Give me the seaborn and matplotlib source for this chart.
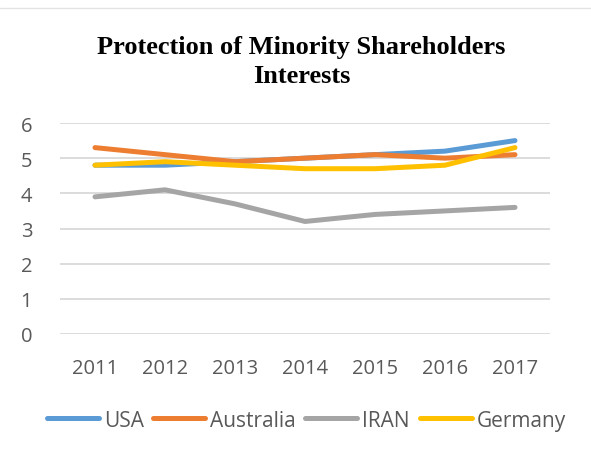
import matplotlib
matplotlib.use("Agg")
import matplotlib.pyplot as plt
import seaborn as sns
import pandas as pd
from matplotlib.lines import Line2D

years = [2011, 2012, 2013, 2014, 2015, 2016, 2017]
usa = [4.8, 4.8, 4.9, 5.0, 5.1, 5.2, 5.5]
australia = [5.3, 5.1, 4.9, 5.0, 5.1, 5.0, 5.1]
iran = [3.9, 4.1, 3.7, 3.2, 3.4, 3.5, 3.6]
germany = [4.8, 4.9, 4.8, 4.7, 4.7, 4.8, 5.3]
series_names = ["USA", "Australia", "IRAN", "Germany"]
colors = ["#5B9BD5", "#ED7D31", "#A5A5A5", "#FFC000"]
title = "Protection of Minority Shareholders\nInterests"

rows = []
for name, vals in zip(series_names, [usa, australia, iran, germany]):
    for y, v in zip(years, vals):
        rows.append({"Year": y, "Value": v, "Country": name})
df = pd.DataFrame(rows)

sns.set_theme(style="white")
plt.rcParams["font.family"] = ["Open Sans", "DejaVu Sans"]

W, H = 591, 452
fig = plt.figure(figsize=(W/100, H/100), dpi=100)
ax = fig.add_axes([60/W, 1-335/H, 490/W, (335-124)/H])

sns.lineplot(data=df, x="Year", y="Value", hue="Country", hue_order=series_names,
             palette=colors, linewidth=3.6, ax=ax, legend=False, solid_capstyle="round")

ax.set_xlim(2010.5, 2017.5)
ax.set_ylim(0, 6)
ax.set_yticks(range(0, 7))
ax.set_xticks(years)
ax.set_xticklabels([str(y) for y in years])
ax.grid(axis="y", color="#D9D9D9", linewidth=1.3)
ax.grid(axis="x", visible=False)
ax.set_axisbelow(True)
for s in ax.spines.values():
    s.set_visible(False)
ax.tick_params(axis="both", length=0, labelsize=14.5, labelcolor="#595959")
ax.tick_params(axis="x", pad=17)
ax.tick_params(axis="y", pad=20)
ax.set_xlabel("")
ax.set_ylabel("")

fig.text(0.51, 1-62/H, title, ha="center", va="center", fontsize=19,
         fontweight="bold", family="Liberation Serif", linespacing=1.3, color="black")

# top separator line
fig.add_artist(Line2D([0.0, 1.0], [1-9/H, 1-9/H], color="#E3E3E3", linewidth=1))

# legend (manual, for consistent baseline alignment)
legend_x = [45, 151, 303, 418]
line_y = 1 - 419/H
text_base = 1 - 427/H
for x0, name, c in zip(legend_x, series_names, colors):
    fig.add_artist(Line2D([(x0 + 2)/W, (x0 + 54)/W], [line_y, line_y], color=c,
                          linewidth=3.6, solid_capstyle="round"))
    fig.text((x0 + 59)/W, text_base, name, ha="left", va="baseline",
             fontsize=15, color="#595959")

fig.savefig("out.png", dpi=100, facecolor="white")
